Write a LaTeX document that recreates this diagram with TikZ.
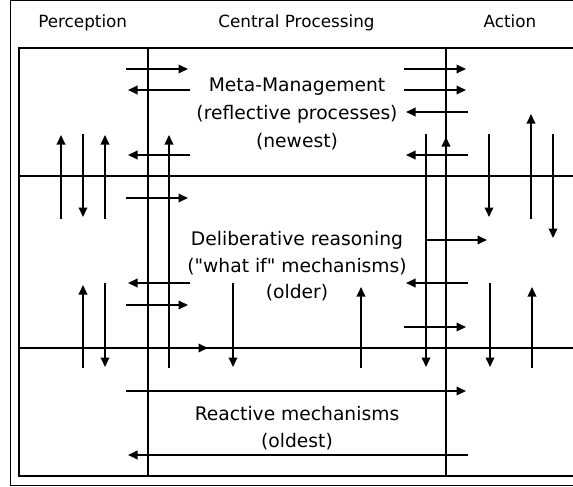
\documentclass[tikz,border=0pt]{standalone}
\usepackage{fontspec}
\setmainfont{DejaVu Sans}[Ligatures=TeXOff]
\usetikzlibrary{arrows.meta}
\begin{document}
\begin{tikzpicture}[x=1pt,y=-1pt,
  frame/.style={line width=1.8pt},
  outerframe/.style={line width=1pt},
  arr/.style={line width=1.8pt,-{Triangle[length=9.5pt,width=8.5pt]}},
  hdr/.style={font=\fontsize{16.8}{20}\selectfont, anchor=base, inner sep=0pt},
  lbl/.style={font=\fontsize{18.7}{22}\selectfont, anchor=base, inner sep=0pt}]
\useasboundingbox (0,0) rectangle (573,487);
\clip (0,0) rectangle (573,487);
% frames
\draw[outerframe] (600,0.5) -- (10,0.5) -- (10,485) -- (600,485);
\draw[frame] (600,48) -- (19,48) -- (19,476) -- (600,476);
\draw[frame] (19,176) -- (600,176);
\draw[frame] (19,348) -- (600,348);
\draw[frame] (148,48) -- (148,476);
\draw[frame] (446,48) -- (446,476);
% headers
\node[hdr] (hperc) at (82.7,27.5) {Perception};
\node[hdr] (hcent) at (296.5,27.5) {Central Processing};
\node[hdr] (hact) at (510,27.5) {Action};
% labels
\node[lbl] (m1) at (297,91.7) {Meta-Management};
\node[lbl] (m2) at (297,119.5) {(reflective processes)};
\node[lbl] (m3) at (297,147) {(newest)};
\node[lbl] (d1) at (297,245) {Deliberative reasoning};
\node[lbl] (d2) at (297,272) {("what if" mechanisms)};
\node[lbl] (d3) at (297,298.5) {(older)};
\node[lbl] (r1) at (297,420) {Reactive mechanisms};
\node[lbl] (r2) at (297,447) {(oldest)};
% horizontal arrows
\foreach \xa/\ya/\xb/\yb in {
  126/69/188/69, 190/90/128/90, 190/155/128/155, 126/198/188/198,
  190/283/128/283, 126/305/188/305,
  404/69/466/69, 404/90/466/90, 468/112/406/112, 468/155/406/155,
  426/240/487/240, 468/283/406/283, 404/327/466/327,
  126/391/466/391, 468/455/128/455, 19/348/208/348}
  \draw[arr] (\xa,\ya) -- (\xb,\yb);
% vertical arrows
\foreach \xa/\ya/\xb/\yb in {
  61/219/61/135, 83/134/83/217, 105/219/105/135, 169/368/169/135,
  83/368/83/285, 105/283/105/367, 233/283/233/367, 361/368/361/287,
  426/134/426/367, 446/220/446/137, 489/134/489/217, 531/219/531/114,
  553/134/553/238, 490/283/490/367, 532/368/532/287}
  \draw[arr] (\xa,\ya) -- (\xb,\yb);
\end{tikzpicture}
\end{document}
